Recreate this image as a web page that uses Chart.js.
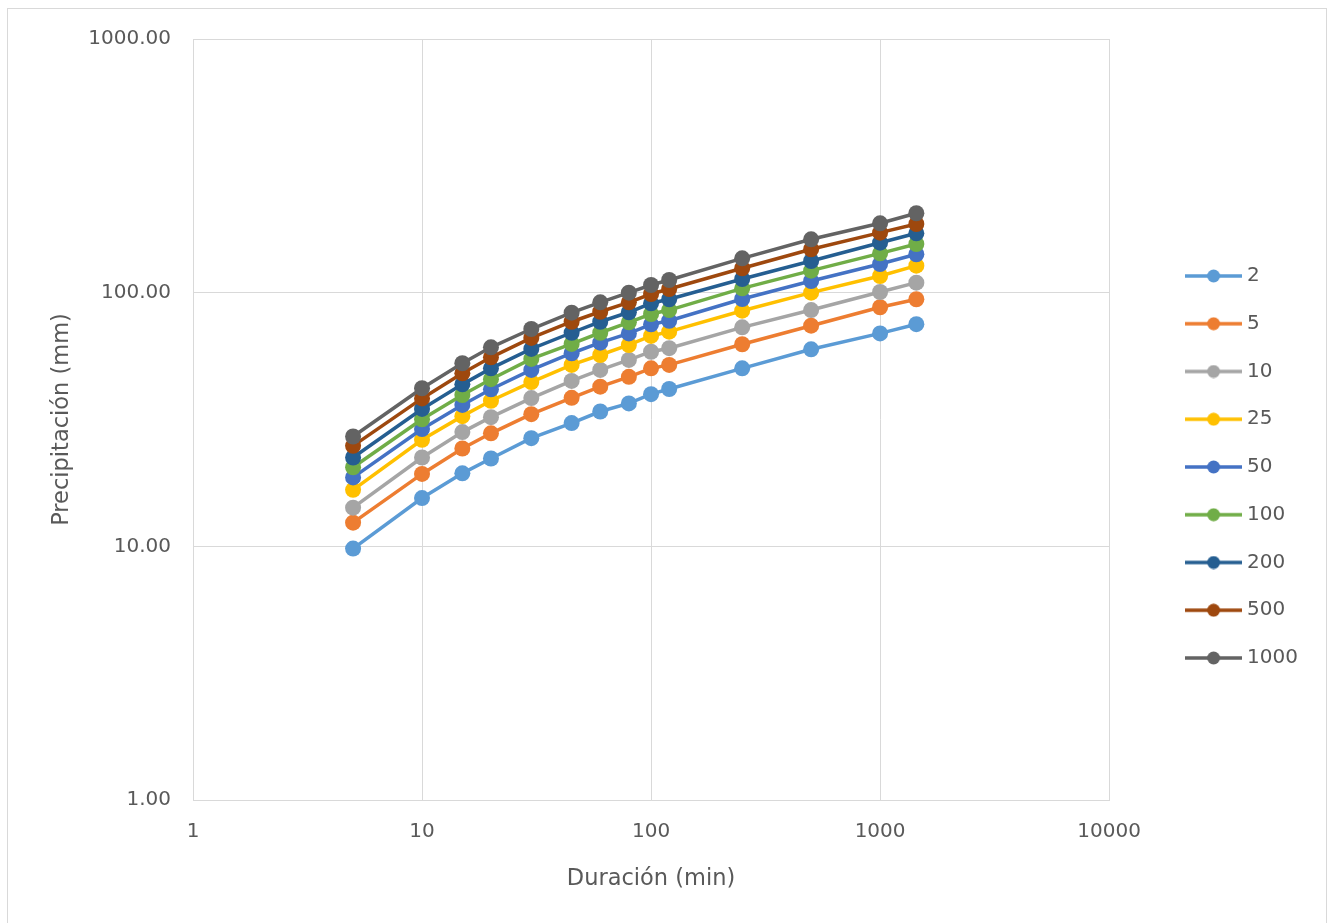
<!DOCTYPE html>
<html>
<head>
<meta charset="utf-8">
<title>Curvas IDF</title>
<script src="https://cdn.jsdelivr.net/npm/chart.js@4.4.1/dist/chart.umd.min.js"></script>
<style>
  html, body { margin: 0; padding: 0; background: #fff; }
  #wrap { position: relative; width: 1327px; height: 923px; }
</style>
</head>
<body>
<div id="wrap"><canvas id="idf"></canvas></div>
<script>
// durations (min) and precipitation (mm) per return period (years)
const durations = [5, 10, 15, 20, 30, 45, 60, 80, 100, 120, 250, 500, 1000, 1440];
const returnPeriods = ['2', '5', '10', '25', '50', '100', '200', '500', '1000'];

const p2    = [9.8, 15.5, 19.4, 22.2, 26.7, 30.6, 34.0, 36.6, 39.8, 41.7, 50.3, 59.8, 69.1, 75.1];
const p5    = [12.4, 19.3, 24.3, 27.9, 33.2, 38.5, 42.6, 46.6, 50.3, 51.9, 62.6, 74.1, 87.6, 94.2];
const p10   = [14.2, 22.4, 28.2, 32.3, 38.4, 44.9, 49.6, 54.3, 58.5, 60.4, 73.0, 85.4, 100.6, 109.5];
const p25   = [16.7, 26.3, 32.6, 37.5, 44.4, 51.9, 56.8, 62.2, 67.5, 70.2, 84.9, 100.0, 116.3, 127.8];
const p50   = [18.7, 29.0, 36.1, 41.6, 49.6, 57.7, 63.5, 69.1, 75.0, 77.5, 94.4, 111.2, 129.7, 141.7];
const p100  = [20.5, 31.7, 39.5, 45.6, 54.8, 62.8, 69.5, 76.4, 82.4, 85.4, 104.0, 122.1, 142.9, 155.5];
const p200  = [22.4, 34.8, 43.5, 50.3, 60.0, 69.5, 76.8, 83.7, 90.8, 94.2, 113.2, 133.3, 157.4, 171.4];
const p500  = [24.9, 38.3, 48.1, 55.6, 66.3, 76.8, 84.1, 91.6, 98.8, 103.4, 124.8, 148.3, 172.4, 186.5];
const p1000 = [27.1, 42.0, 52.7, 60.9, 71.9, 83.4, 91.6, 100.0, 107.2, 112.2, 136.6, 162.3, 187.7, 205.6];

const xTicks = [1, 10, 100, 1000, 10000];
const yTicks = [1, 10, 100, 1000];

const seriesValues = [p2, p5, p10, p25, p50, p100, p200, p500, p1000];
const colors = ['#5B9BD5', '#ED7D31', '#A5A5A5', '#FFC000', '#4472C4', '#70AD47', '#255E91', '#9E480E', '#636363'];

const textColor = '#595959';
const gridColor = '#d9d9d9';
const fontFamily = "'DejaVu Sans', sans-serif";

// little line + dot used as legend symbol
function legendIcon(color) {
  const c = document.createElement('canvas');
  c.width = 57;
  c.height = 14;
  const g = c.getContext('2d');
  g.strokeStyle = color;
  g.lineWidth = 3.3;
  g.beginPath();
  g.moveTo(0, 7);
  g.lineTo(57, 7);
  g.stroke();
  g.fillStyle = color;
  g.beginPath();
  g.arc(28.5, 7, 6.5, 0, Math.PI * 2);
  g.fill();
  return c;
}
const icons = colors.map(legendIcon);

const datasets = returnPeriods.map((label, i) => ({
  label: label,
  data: seriesValues[i].map((v, j) => ({ x: durations[j], y: v })),
  borderColor: colors[i],
  backgroundColor: colors[i],
  pointBackgroundColor: colors[i],
  pointBorderWidth: 0,
  pointRadius: 8,
  pointHoverRadius: 8,
  borderWidth: 3.5,
  tension: 0,
  fill: false,
  order: -i  // longer return periods drawn on top
}));

// white page with the thin chart frame
const frame = {
  id: 'frame',
  beforeDraw(chart) {
    const ctx = chart.ctx;
    ctx.save();
    ctx.fillStyle = '#fff';
    ctx.fillRect(0, 0, chart.width, chart.height);
    ctx.strokeStyle = gridColor;
    ctx.lineWidth = 1;
    ctx.strokeRect(7.5, 8.5, 1319, 930);
    ctx.restore();
  }
};

new Chart(document.getElementById('idf'), {
  type: 'line',
  data: { datasets: datasets },
  plugins: [frame],
  options: {
    responsive: true,
    maintainAspectRatio: false,
    animation: false,
    layout: { padding: { top: 39, bottom: 28, left: 0, right: 19 } },
    plugins: {
      tooltip: { enabled: false },
      legend: {
        position: 'right',
        labels: {
          usePointStyle: true,
          pointStyleWidth: 47,
          padding: 27.75,
          color: textColor,
          font: { family: fontFamily, size: 20 },
          sort: (a, b) => a.datasetIndex - b.datasetIndex,
          generateLabels(chart) {
            const items = Chart.defaults.plugins.legend.labels.generateLabels(chart);
            items.forEach(it => { it.pointStyle = icons[it.datasetIndex]; });
            return items;
          }
        }
      }
    },
    scales: {
      x: {
        type: 'logarithmic',
        min: 1,
        max: 10000,
        afterBuildTicks(s) { s.ticks = xTicks.map(v => ({ value: v })); },
        afterFit(s) { s.height = 95; },
        ticks: {
          color: textColor,
          padding: 20,
          maxRotation: 0,
          font: { family: fontFamily, size: 20 },
          callback: v => String(v)
        },
        grid: { color: gridColor, lineWidth: 1, drawTicks: false },
        border: { color: gridColor },
        title: {
          display: true,
          text: 'Duración (min)',
          color: textColor,
          font: { family: fontFamily, size: 22.5 },
          padding: { top: 0, bottom: 2.5 }
        }
      },
      y: {
        type: 'logarithmic',
        min: 1,
        max: 1000,
        afterBuildTicks(s) { s.ticks = yTicks.map(v => ({ value: v })); },
        afterFit(s) { s.width = 193; },
        ticks: {
          color: textColor,
          padding: 22,
          font: { family: fontFamily, size: 20 },
          callback: v => Number(v).toFixed(2)
        },
        grid: { color: gridColor, lineWidth: 1, drawTicks: false },
        border: { color: gridColor },
        title: {
          display: true,
          text: 'Precipitación (mm)',
          color: textColor,
          font: { family: fontFamily, size: 22.5 },
          padding: { top: 48.5, bottom: 0 }
        }
      },
      // empty strip between plot area and legend
      gap: {
        type: 'linear',
        position: 'right',
        display: true,
        ticks: { display: false },
        grid: { display: false },
        border: { display: false },
        afterFit(s) { s.width = 53.25; }
      }
    }
  }
});
</script>
</body>
</html>
